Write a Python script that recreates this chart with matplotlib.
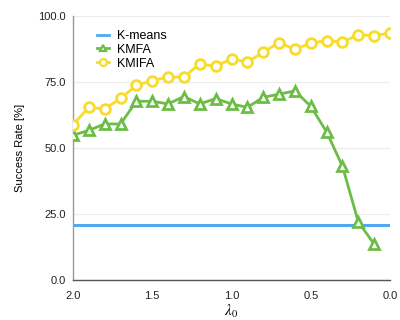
import numpy as np
import matplotlib.pyplot as plt
from matplotlib.lines import Line2D

plt.rcParams['font.family'] = ['Liberation Sans', 'DejaVu Sans']
plt.rcParams['mathtext.fontset'] = 'stix'

# lambda_0 values (decreasing along the axis)
lam_kmifa = [2.0, 1.9, 1.8, 1.7, 1.6, 1.5, 1.4, 1.3, 1.2, 1.1, 1.0,
             0.9, 0.8, 0.7, 0.6, 0.5, 0.4, 0.3, 0.2, 0.1, 0.0]
lam_kmfa = lam_kmifa[:-1]

kmeans_rate = 20.7
kmfa = [54.8, 56.7, 59.1, 59.1, 67.7, 67.7, 66.7, 69.5, 66.7, 68.7,
        66.7, 65.4, 69.2, 70.4, 71.6, 65.8, 56.1, 43.1, 22.0, 13.6]
kmifa = [58.9, 65.4, 64.8, 68.8, 73.7, 75.5, 76.9, 76.9, 81.9, 80.9,
         83.8, 82.5, 86.3, 89.9, 87.4, 89.7, 90.7, 90.2, 92.8, 92.6, 93.5]

blue = '#4fa8f2'
green = '#6cbd45'
yellow = '#f8dc2a'

fig = plt.figure(figsize=(4, 3.2), dpi=100)
ax = fig.add_axes([0.1825, 0.125, 0.7925, 0.825])

ax.axhline(kmeans_rate, color=blue, lw=2.2, zorder=2)
ax.plot(lam_kmfa, kmfa, '-^', color=green, lw=2, ms=7, mfc='white',
        mec=green, mew=2, zorder=3)
ax.plot(lam_kmifa, kmifa, '-o', color=yellow, lw=2, ms=7, mfc='white',
        mec=yellow, mew=2, zorder=4)

ax.set_xlim(2.0, 0.0)
ax.set_ylim(0, 100)
ax.set_xticks([2.0, 1.5, 1.0, 0.5, 0.0])
ax.set_xticklabels(['2.0', '1.5', '1.0', '0.5', '0.0'])
ax.set_yticks([0, 25, 50, 75, 100])
ax.set_yticklabels(['0.0', '25.0', '50.0', '75.0', '100.0'])
ax.tick_params(length=0, labelsize=8, colors='#222222', pad=5)
ax.tick_params(axis='x', pad=8)
ax.grid(axis='y', color='#ececec', lw=0.8)
ax.set_axisbelow(True)

for s in ['top', 'right']:
    ax.spines[s].set_visible(False)
ax.spines['left'].set_color('#999999')
ax.spines['bottom'].set_color('#555555')
ax.spines['left'].set_linewidth(1)
ax.spines['bottom'].set_linewidth(1)

ax.set_ylabel('Success Rate [%]', fontsize=8, labelpad=10)
ax.set_xlabel(r'$\lambda_0$', fontsize=11, labelpad=1)

handles = [
    Line2D([], [], color=blue, lw=2),
    Line2D([], [], color=green, lw=2, marker='^', ms=5, mfc='white', mec=green, mew=1.6),
    Line2D([], [], color=yellow, lw=2, marker='o', ms=5, mfc='white', mec=yellow, mew=1.6),
]
ax.legend(handles, ['K-means', 'KMFA', 'KMIFA'], loc='upper left',
          bbox_to_anchor=(0.04, 0.99), frameon=False, fontsize=9,
          handlelength=1.0, handletextpad=0.6, labelspacing=0.15)

fig.savefig('out.png', dpi=100)
